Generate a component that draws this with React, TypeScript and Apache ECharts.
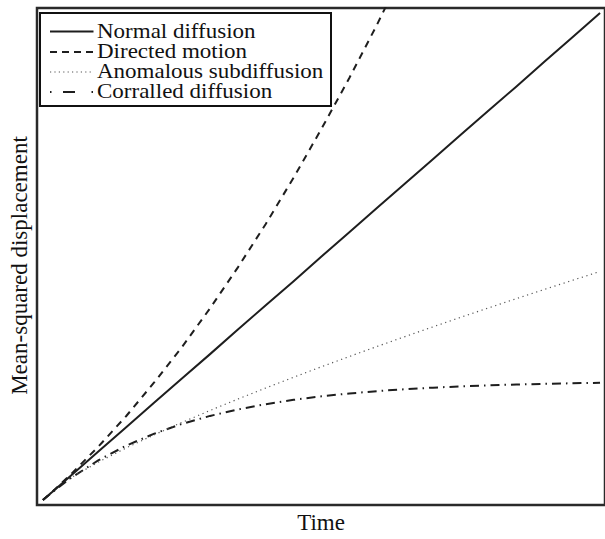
import React, { useEffect, useRef } from "react";
import * as echarts from "echarts";

// time samples (arbitrary units, 0..10)
const times = [0, 0.25, 0.5, 1, 1.5, 2, 2.5, 3, 3.5, 4, 4.5, 5, 5.5, 6, 6.5, 7, 7.5, 8, 8.5, 9, 9.5, 10];

const seriesNames = ["Normal diffusion", "Directed motion", "Anomalous subdiffusion", "Corralled diffusion"];

// mean-squared displacement (arbitrary units)
const normalMsd = [0, 0.247, 0.494, 0.988, 1.48, 1.98, 2.47, 2.96, 3.46, 3.95, 4.44, 4.94, 5.43, 5.93, 6.42, 6.91, 7.41, 7.9, 8.39, 8.89, 9.38, 9.88];
const directedMsd = [0, 0.253, 0.52, 1.09, 1.71, 2.39, 3.11, 3.89, 4.72, 5.6, 6.54, 7.53, 8.56, 9.65, 10.8, 11.99];
const anomalousMsd = [0, 0.263, 0.451, 0.773, 1.06, 1.325, 1.577, 1.817, 2.049, 2.273, 2.491, 2.704, 2.912, 3.116, 3.316, 3.513, 3.707, 3.898, 4.086, 4.272, 4.455, 4.637];
const corralledMsd = [0, 0.234, 0.446, 0.81, 1.106, 1.348, 1.546, 1.707, 1.838, 1.945, 2.033, 2.104, 2.162, 2.21, 2.248, 2.28, 2.306, 2.327, 2.344, 2.358, 2.369, 2.379];

const xName = "Time";
const yName = "Mean-squared displacement";

const pair = (vals: number[]) => vals.map((v, i) => [times[i], v]);

const FONT = '"Liberation Serif", "Times New Roman", serif';

export default function App() {
  const ref = useRef<HTMLDivElement>(null);
  useEffect(() => {
    document.body.style.margin = "0";
    const chart = echarts.init(ref.current!, null, { renderer: "svg" });
    const ink = "#1e1e1e";
    const styles = [
      { type: "solid" as any, width: 2, color: ink },
      { type: [7, 6] as any, width: 2, color: ink },
      { type: [1.2, 3.6] as any, width: 1.2, color: "#555" },
      { type: [9, 5, 1.5, 5] as any, width: 2, color: ink },
    ];
    const legendDash: any[] = [null, [7, 5], [1.2, 3.2], [1.5, 11.5, 12, 16.5]];
    const datas = [normalMsd, directedMsd, anomalousMsd, corralledMsd];

    // legend box
    const boxX = 40, boxY = 13, boxW = 291, boxH = 93;
    const rowY = [31.5, 52, 72, 92];
    const legendEls: any[] = [
      {
        type: "rect",
        shape: { x: boxX, y: boxY, width: boxW, height: boxH },
        style: { fill: "#fff", stroke: "#111", lineWidth: 2 },
        z: 100,
      },
    ];
    seriesNames.forEach((n, i) => {
      legendEls.push({
        type: "line",
        shape: { x1: 50, y1: rowY[i], x2: 93.5, y2: rowY[i] },
        style: {
          stroke: styles[i].color,
          lineWidth: styles[i].width,
          lineDash: legendDash[i],
          lineCap: "butt",
        },
        z: 101,
      });
      legendEls.push({
        type: "text",
        x: 97,
        y: rowY[i],
        scaleX: 1.15,
        style: {
          text: n,
          fontFamily: FONT,
          fontSize: 20,
          fill: "#111",
          verticalAlign: "middle",
          align: "left",
        },
        z: 101,
      });
    });

    chart.setOption({
      animation: false,
      backgroundColor: "#fff",
      textStyle: { fontFamily: FONT },
      grid: {
        left: 34,
        top: 8,
        width: 576,
        height: 504,
        show: true,
        borderColor: "#2a2a2a",
        borderWidth: 2.5,
        backgroundColor: "transparent",
      },
      graphic: legendEls,
      xAxis: {
        type: "value",
        min: -0.106,
        max: 10.089,
        name: xName,
        nameLocation: "middle",
        nameGap: 6,
        nameTextStyle: { fontFamily: FONT, fontSize: 23, color: "#111", verticalAlign: "top" },
        axisLine: { show: false },
        axisTick: { show: false },
        axisLabel: { show: false },
        splitLine: { show: false },
      },
      yAxis: {
        type: "value",
        min: -0.1,
        max: 9.98,
        name: yName,
        nameLocation: "middle",
        nameGap: 6,
        nameTextStyle: { fontFamily: FONT, fontSize: 23, color: "#111", padding: [0, 18, 0, 0] },
        axisLine: { show: false },
        axisTick: { show: false },
        axisLabel: { show: false },
        splitLine: { show: false },
      },
      series: datas.map((d, i) => ({
        name: seriesNames[i],
        type: "line",
        data: pair(d),
        symbol: "none",
        smooth: false,
        clip: true,
        lineStyle: { ...styles[i], cap: "butt", join: "round" },
        itemStyle: { color: styles[i].color },
        z: 5 - i,
      })),
    });
    return () => chart.dispose();
  }, []);
  return <div ref={ref} style={{ position: "fixed", left: 0, top: 0, width: 605, height: 539 }} />;
}
